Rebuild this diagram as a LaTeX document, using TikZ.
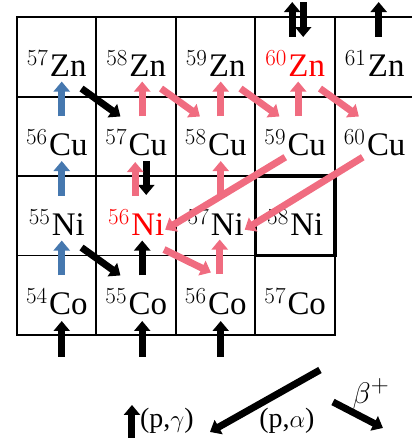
\documentclass[tikz,border=0pt]{standalone}
\usepackage{fontspec}
\setmainfont{Liberation Serif}
\usepackage{xcolor}
\usepackage{tikz}
\usetikzlibrary{arrows.meta}
\definecolor{pgblue}{RGB}{70,120,175}
\definecolor{rose}{RGB}{240,108,128}
\newcommand{\iso}[2]{\raisebox{11pt}{\fontfamily{lmr}\fontsize{23}{23}\selectfont #1}\kern2pt#2}

\begin{document}
\begin{tikzpicture}[nuc/.style={draw,line width=2pt,minimum size=2.8cm,inner sep=0pt,outer sep=0pt,
        text height=39.5pt,text depth=0pt,font=\fontsize{33}{40}\selectfont},
      ar/.style={line width=7pt,-{Triangle[width=16pt,length=10pt]}},
      leg/.style={font=\fontsize{28}{32}\selectfont,inner sep=0pt}]
  \useasboundingbox (-0.599,-3.84) rectangle (13.91,11.80);
  \node[nuc] (co54) at (1.4,1.4) {\iso{54}{Co}};
  \node[nuc] (co55) at (4.2,1.4) {\iso{55}{Co}};
  \node[nuc] (co56) at (7.0,1.4) {\iso{56}{Co}};
  \node[nuc] (co57) at (9.8,1.4) {\iso{57}{Co}};
  \node[nuc] (ni55) at (1.4,4.2) {\iso{55}{Ni}};
  \node[nuc,text=red] (ni56) at (4.2,4.2) {\iso{56}{Ni}};
  \node[nuc] (ni57) at (7.0,4.2) {\iso{57}{Ni}};
  \node[nuc] (cu56) at (1.4,7.0) {\iso{56}{Cu}};
  \node[nuc] (cu57) at (4.2,7.0) {\iso{57}{Cu}};
  \node[nuc] (cu58) at (7.0,7.0) {\iso{58}{Cu}};
  \node[nuc] (cu59) at (9.8,7.0) {\iso{59}{Cu}};
  \node[nuc,draw=none] (cu60) at (12.6,7.0) {\iso{60}{Cu}};
  \node[nuc] (zn57) at (1.4,9.8) {\iso{57}{Zn}};
  \node[nuc] (zn58) at (4.2,9.8) {\iso{58}{Zn}};
  \node[nuc] (zn59) at (7.0,9.8) {\iso{59}{Zn}};
  \node[nuc,text=red] (zn60) at (9.8,9.8) {\iso{60}{Zn}};
  \node[nuc] (zn61) at (12.6,9.8) {\iso{61}{Zn}};
  \node[nuc,line width=3.5pt] (ni58) at (9.8,4.2) {\iso{58}{Ni}};

  \draw[ar,pgblue] ([xshift=5pt,yshift=-20pt]cu56.north) -- ([xshift=5pt,yshift=15pt]zn57.south);
  \draw[ar,pgblue] ([xshift=5pt,yshift=-20pt]ni55.north) -- ([xshift=5pt,yshift=15pt]cu56.south);
  \draw[ar,pgblue] ([xshift=5pt,yshift=-20pt]co54.north) -- ([xshift=5pt,yshift=15pt]ni55.south);

  \draw[ar] ([xshift=6pt,yshift=-20pt]co55.north) -- ([xshift=6pt,yshift=15pt]ni56.south);
  \draw[ar] ([xshift=5pt,yshift=-22pt]co54.south) -- ([xshift=5pt,yshift=14pt]co54.south);
  \draw[ar] ([xshift=6pt,yshift=-22pt]co55.south) -- ([xshift=6pt,yshift=14pt]co55.south);
  \draw[ar] ([xshift=5pt,yshift=-22pt]co56.south) -- ([xshift=5pt,yshift=14pt]co56.south);
  \draw[ar] ([xshift=-3pt,yshift=-20pt]zn60.north) -- ([xshift=-3pt,yshift=15pt]zn60.north);
  \draw[ar] ([xshift=8pt,yshift=15pt]zn60.north) -- ([xshift=8pt,yshift=-20pt]zn60.north);
  \draw[ar] ([xshift=4pt,yshift=-20pt]zn61.north) -- ([xshift=4pt,yshift=15pt]zn61.north);
  \draw[ar] ([xshift=10pt,yshift=15pt]cu57.south) -- ([xshift=10pt,yshift=-19pt]ni56.north);

  \draw[ar,rose] ([xshift=-1pt,yshift=-20pt]ni56.north) -- ([xshift=-1pt,yshift=14pt]cu57.south);
  \draw[ar,rose] ([xshift=6pt,yshift=-20pt]cu57.north) -- ([xshift=6pt,yshift=15pt]zn58.south);
  \draw[ar,rose] ([xshift=5pt,yshift=-20pt]cu58.north) -- ([xshift=5pt,yshift=15pt]zn59.south);
  \draw[ar,rose] ([xshift=3pt,yshift=-20pt]cu59.north) -- ([xshift=3pt,yshift=15pt]zn60.south);
  \draw[ar,rose] ([xshift=5pt,yshift=-20pt]ni57.north) -- ([xshift=5pt,yshift=15pt]cu58.south);
  \draw[ar,rose] ([xshift=4pt,yshift=-19pt]co56.north) -- ([xshift=4pt,yshift=16pt]ni57.south);

  \draw[ar] ([xshift=-15pt,yshift=8pt]zn57.south east) -- ([xshift=24pt,yshift=-20pt]cu57.north west);
  \draw[ar] ([xshift=-15pt,yshift=8pt]ni55.south east) -- ([xshift=24pt,yshift=-20pt]co55.north west);
  \draw[ar,rose] ([xshift=-15pt,yshift=8pt]zn58.south east) -- ([xshift=24pt,yshift=-20pt]cu58.north west);
  \draw[ar,rose] ([xshift=-15pt,yshift=8pt]zn59.south east) -- ([xshift=24pt,yshift=-20pt]cu59.north west);
  \draw[ar,rose] ([xshift=-15pt,yshift=8pt]zn60.south east) -- ([xshift=24pt,yshift=-20pt]cu60.north west);
  \draw[ar,rose] ([xshift=-12pt,yshift=6pt]ni56.south east) -- ([xshift=35pt,yshift=-17pt]co56.north west);

  \draw[ar,rose] ([xshift=-10pt,yshift=-21pt]cu59.center) -- ([xshift=29pt,yshift=-14pt]ni56.center);
  \draw[ar,rose] ([xshift=-12pt,yshift=-21pt]cu60.center) -- ([xshift=29pt,yshift=-14pt]ni57.center);

  \coordinate (pgt) at (4.050,-3.628);
  \coordinate (pgh) at (4.050,-2.465);
  \coordinate (pat) at (10.672,-1.233);
  \coordinate (pah) at (6.797,-3.416);
  \coordinate (bt) at (11.130,-2.360);
  \coordinate (bh) at (12.891,-3.275);
  \draw[ar] (pgt) -- (pgh);
  \draw[ar] (pat) -- (pah);
  \draw[ar] (bt) -- (bh);
  \node[leg,anchor=base west] (pglab) at (4.332,-3.275) {(p,$\gamma$)};
  \node[leg,anchor=base] (palab) at (9.509,-3.275) {(p,$\alpha$)};
  \node[leg] (blab) at (12.468,-2.078) {\scalebox{1.2}{$\beta^+$}};
\end{tikzpicture}
\end{document}
